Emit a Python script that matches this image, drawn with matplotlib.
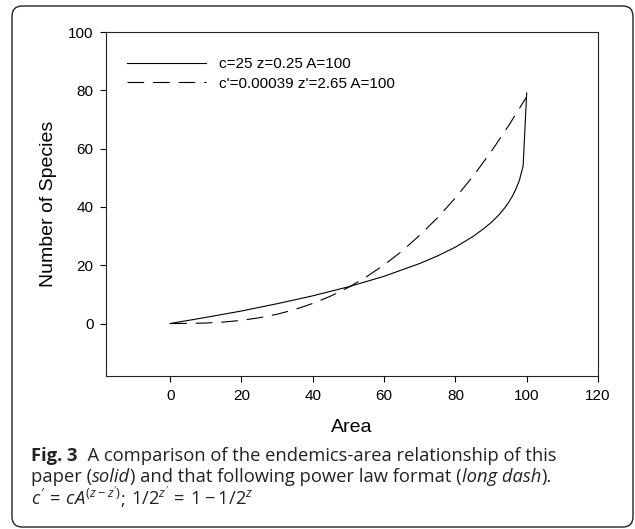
import matplotlib
matplotlib.use('Agg')
import matplotlib.pyplot as plt
from matplotlib.patches import FancyBboxPatch

# values
area_solid = [0, 10, 20, 30, 40, 50, 60, 70, 75, 80, 85, 88, 90, 92, 94, 95, 96, 97, 98, 99, 100]
species_solid = [0, 2.1, 4.3, 6.8, 9.5, 12.6, 16.2, 20.6, 23.2, 26.2, 29.9, 32.6, 34.6, 37.0, 39.9, 41.7, 43.7, 46.2, 49.3, 54.1, 79.1]

area_dash = [0, 5, 10, 15, 20, 25, 30, 35, 40, 45, 50, 55, 60, 65, 70, 75, 80, 85, 90, 95, 100]
species_dash = [0, 0.03, 0.17, 0.51, 1.09, 1.98, 3.2, 4.8, 6.9, 9.4, 12.4, 16.0, 20.1, 24.8, 30.3, 36.3, 43.1, 50.6, 58.9, 68.0, 77.8]

labels = ['c=25 z=0.25 A=100', "c'=0.00039 z'=2.65 A=100"]
xticks = [0, 20, 40, 60, 80, 100, 120]
yticks = [0, 20, 40, 60, 80, 100]

plt.rcParams['font.family'] = ['Liberation Sans', 'DejaVu Sans']
plt.rcParams['mathtext.fontset'] = 'custom'
plt.rcParams['mathtext.it'] = 'Open Sans:italic'
plt.rcParams['mathtext.rm'] = 'Open Sans'

W, H = 635, 529
fig = plt.figure(figsize=(W/100., H/100.), dpi=100, facecolor='w')
ax = fig.add_axes([106./W, 1-376./H, 492./W, 344./H])

ax.plot(area_solid, species_solid, '-', color='k', lw=0.8, label=labels[0])
ax.plot(area_dash, species_dash, color='k', lw=0.8, linestyle=(0, (15, 8)), label=labels[1])

ax.set_xlim(-18, 120)
ax.set_ylim(-18, 100)
ax.set_xticks(xticks)
ax.set_yticks(yticks)
ax.tick_params(direction='out', length=4, width=0.8, labelsize=11, pad=5)
for s in ax.spines.values():
    s.set_linewidth(0.8)
    s.set_color('#222222')
ax.set_xlabel('Area', fontsize=14, labelpad=12)
ax.set_ylabel('Number of Species', fontsize=14, labelpad=8)

ax.legend(loc='upper left', bbox_to_anchor=(0.0427, 0.926), frameon=False,
          fontsize=11, handlelength=5.2, handletextpad=0.85, labelspacing=0.35,
          borderaxespad=0, borderpad=0)

# rounded frame round chart + caption
frame = FancyBboxPatch((12./W, 2./H), 621./W, 521./H,
                       boxstyle='round,pad=0,rounding_size=0.016', mutation_aspect=1.2,
                       transform=fig.transFigure, facecolor='none', edgecolor='#222222', lw=1.0)
fig.patches.append(frame)

# caption, drawn piece by piece
cap = dict(family=['Open Sans', 'DejaVu Sans'], fontsize=13.2, color='#222222', va='baseline')
fig.canvas.draw()
rend = fig.canvas.get_renderer()

def put_line(pieces, x0, ybase):
    x = x0
    for txt, kw in pieces:
        t = fig.text(x/W, 1-ybase/H, txt, **cap, **kw)
        bb = t.get_window_extent(renderer=rend)
        x += bb.width

put_line([('Fig. 3', dict(fontweight='bold')),
          ('  A comparison of the endemics-area relationship of this', {})], 31, 461)
put_line([('paper (', {}), ('solid', dict(style='italic')),
          (') and that following power law format (', {}),
          ('long dash', dict(style='italic')), (').', {})], 31, 482)
put_line([(r"$c^{\prime}\,=\,cA^{(z-z^{\prime})}$", {}), ('; ', {}),
          (r"$1/2^{z^{\prime}}\,=\,1-1/2^{z}$", {})], 31, 505)

fig.savefig('out.png', dpi=100, facecolor='w')
